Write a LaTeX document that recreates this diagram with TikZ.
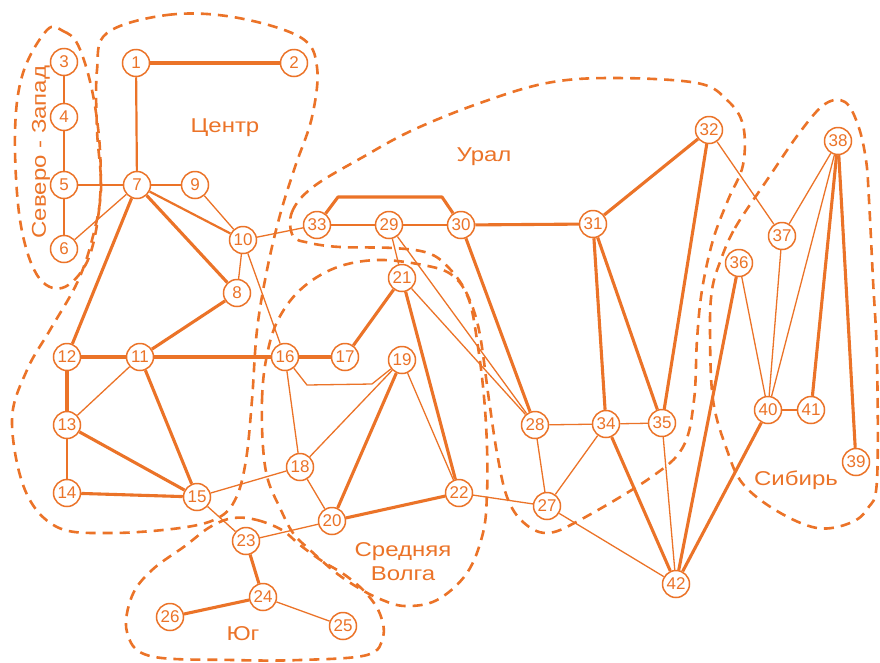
\documentclass[tikz,border=0pt]{standalone}
\usepackage{fontspec}
\setmainfont{Liberation Sans}
\newfontfamily\lblfont[FakeStretch=1.2]{Liberation Sans}
\usetikzlibrary{backgrounds}
\definecolor{org}{RGB}{235,115,40}
\begin{document}
\begin{tikzpicture}[x=1pt,y=-1pt,
  vtx/.style={circle,draw=org,fill=white,line width=1.5pt,minimum size=27pt,inner sep=0pt,text=org,font=\fontsize{17}{17}\selectfont},
  thk/.style={draw=org,line width=3.1pt,line join=round},
  med/.style={draw=org,line width=2.2pt},
  thn/.style={draw=org,line width=1.3pt},
  region/.style={draw=org,line width=2.6pt,dash pattern=on 10pt off 7pt},
  rlabel/.style={text=org,font=\lblfont\fontsize{20}{24}\selectfont,align=center}]
\useasboundingbox (0,0) rectangle (880,662);
% vertices
\node[vtx] (1) at (136,63) {1};
\node[vtx] (2) at (294,63) {2};
\node[vtx] (3) at (64,62) {3};
\node[vtx] (4) at (64,117) {4};
\node[vtx] (5) at (64,185) {5};
\node[vtx] (6) at (64,249) {6};
\node[vtx] (7) at (137,185) {7};
\node[vtx] (8) at (237,293) {8};
\node[vtx] (9) at (195,185) {9};
\node[vtx] (10) at (243,240) {10};
\node[vtx] (11) at (140,357) {11};
\node[vtx] (12) at (67,357) {12};
\node[vtx] (13) at (67,425) {13};
\node[vtx] (14) at (67,493) {14};
\node[vtx] (15) at (197,497) {15};
\node[vtx] (16) at (285,357) {16};
\node[vtx] (17) at (345,357) {17};
\node[vtx] (18) at (300,467) {18};
\node[vtx] (19) at (402,360) {19};
\node[vtx] (20) at (332,521) {20};
\node[vtx] (21) at (402,278) {21};
\node[vtx] (22) at (459,493) {22};
\node[vtx] (23) at (246,541) {23};
\node[vtx] (24) at (263,597) {24};
\node[vtx] (25) at (343,626) {25};
\node[vtx] (26) at (170,617) {26};
\node[vtx] (27) at (547,506) {27};
\node[vtx] (28) at (535,425) {28};
\node[vtx] (29) at (389,225) {29};
\node[vtx] (30) at (461,225) {30};
\node[vtx] (31) at (593,224) {31};
\node[vtx] (32) at (709,130) {32};
\node[vtx] (33) at (317,225) {33};
\node[vtx] (34) at (606,424) {34};
\node[vtx] (35) at (662,423) {35};
\node[vtx] (36) at (739,263) {36};
\node[vtx] (37) at (782,236) {37};
\node[vtx] (38) at (838,141) {38};
\node[vtx] (39) at (856,462) {39};
\node[vtx] (40) at (768,410) {40};
\node[vtx] (41) at (811,410) {41};
\node[vtx] (42) at (676,584) {42};
% bends
\coordinate (p1) at (307,385);
\coordinate (p2) at (372,384);
\coordinate (q1) at (338,197);
\coordinate (q2) at (442,197);
% region labels
\node[rlabel] (lc) at (225,128) {Центр};
\node[rlabel] (lu) at (484,157) {Урал};
\node[rlabel] (ls) at (796,480) {Сибирь};
\node[rlabel] (lv) at (403,562) {Средняя\\Волга};
\node[rlabel] (ly) at (243,634) {Юг};
\node[rlabel,rotate=90] (lnw) at (41,152) {Северо - Запад};
\begin{scope}[on background layer]
% regions
\draw[region] plot[smooth cycle,tension=0.6] coordinates {(47,30) (63,31) (78,45) (92,90) (100,150) (99,210) (87,262) (62,288) (37,275) (20,220) (15,133) (23,73)};
\draw[region] plot[smooth cycle,tension=0.6] coordinates {(107,33) (167,15) (233,17) (300,37) (317,67) (312,117) (295,167) (280,215) (267,270) (257,330) (252,400) (246,460) (236,498) (218,518) (180,528) (110,533) (57,527) (25,490) (12,420) (27,370) (50,330) (77,283) (92,240) (101,190) (97,130) (97,70)};
\draw[region] plot[smooth cycle,tension=0.6] coordinates {(233,518) (257,520) (282,530) (300,545) (322,561) (345,575) (366,593) (380,614) (383,637) (367,655) (300,660) (233,660) (150,656) (127,632) (132,596) (152,570) (185,546) (210,527)};
\draw[region] plot[smooth cycle,tension=0.6] coordinates {(263,447) (262,400) (266,360) (277,322) (300,290) (335,268) (377,260) (423,265) (452,275) (469,300) (478,347) (484,397) (487,447) (487,493) (483,533) (467,573) (437,600) (405,606) (380,599) (357,587) (335,572) (310,550) (293,533) (280,508) (268,480)};
\draw[region] plot[smooth cycle,tension=0.6] coordinates {(293,236) (292,212) (313,187) (363,157) (413,130) (480,103) (547,83) (613,78) (697,83) (727,100) (743,125) (743,165) (728,200) (713,240) (702,290) (697,340) (694,400) (683,447) (650,478) (580,520) (547,533) (523,522) (507,497) (497,453) (489,400) (479,330) (466,292) (448,267) (428,253) (393,248) (340,247) (310,243)};
\draw[region] plot[smooth cycle,tension=0.6] coordinates {(720,262) (735,228) (767,180) (800,132) (825,104) (845,102) (858,125) (866,160) (869,200) (873,280) (877,360) (877,480) (868,508) (850,523) (817,528) (777,511) (743,484) (727,450) (713,400) (710,330) (712,290)};
% thick edges
\draw[thk] (1) -- (2);
\draw[thk] (7) -- (12);
\draw[thk] (7) -- (8);
\draw[thk] (8) -- (11);
\draw[thk] (12) -- (11);
\draw[thk] (11) -- (16);
\draw[thk] (12) -- (13);
\draw[thk] (11) -- (15);
\draw[thk] (13) -- (15);
\draw[thk] (14) -- (15);
\draw[thk] (16) -- (17);
\draw[thk] (17) -- (21);
\draw[thk] (21) -- (22);
\draw[thk] (19) -- (20);
\draw[thk] (20) -- (22);
\draw[thk] (23) -- (24);
\draw[thk] (24) -- (26);
\draw[thk] (33) -- (q1) -- (q2) -- (30);
\draw[thk] (30) -- (31);
\draw[thk] (31) -- (32);
\draw[thk] (30) -- (28);
\draw[thk] (31) -- (34);
\draw[thk] (31) -- (35);
\draw[thk] (32) -- (35);
\draw[thk] (34) -- (42);
\draw[thk] (36) -- (42);
\draw[thk] (40) -- (42);
\draw[thk] (38) -- (41);
\draw[thk] (38) -- (39);
% medium edges
\draw[med] (1) -- (7);
\draw[med] (4) -- (5);
\draw[med] (7) -- (10);
% thin edges
\draw[thn] (3) -- (4);
\draw[thn] (5) -- (7);
\draw[thn] (5) -- (6);
\draw[thn] (7) -- (6);
\draw[thn] (7) -- (9);
\draw[thn] (9) -- (10);
\draw[thn] (10) -- (33);
\draw[thn] (10) -- (8);
\draw[thn] (10) -- (16);
\draw[thn] (11) -- (13);
\draw[thn] (13) -- (14);
\draw[thn] (15) -- (18);
\draw[thn] (16) -- (18);
\draw[thn] (16) -- (p1) -- (p2) -- (19);
\draw[thn] (18) -- (19);
\draw[thn] (18) -- (20);
\draw[thn] (19) -- (22);
\draw[thn] (15) -- (23);
\draw[thn] (20) -- (23);
\draw[thn] (24) -- (25);
\draw[thn] (22) -- (27);
\draw[thn] (21) -- (28);
\draw[thn] (29) -- (28);
\draw[thn] (29) -- (21);
\draw[thn] (33) -- (29);
\draw[thn] (29) -- (30);
\draw[thn] (28) -- (34);
\draw[thn] (34) -- (35);
\draw[thn] (28) -- (27);
\draw[thn] (27) -- (34);
\draw[thn] (27) -- (42);
\draw[thn] (35) -- (42);
\draw[thn] (32) -- (37);
\draw[thn] (37) -- (38);
\draw[thn] (37) -- (40);
\draw[thn] (36) -- (40);
\draw[thn] (38) -- (40);
\draw[thn] (40) -- (41);
\end{scope}
\end{tikzpicture}
\end{document}
